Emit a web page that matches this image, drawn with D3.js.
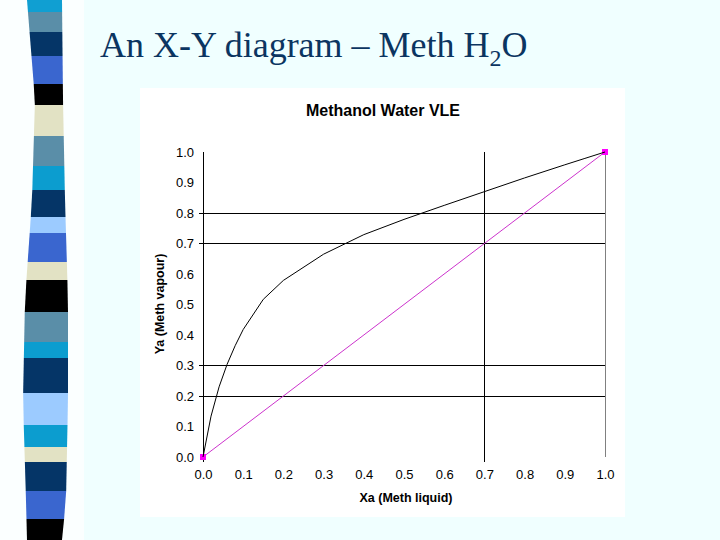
<!DOCTYPE html>
<html>
<head>
<meta charset="utf-8">
<script src="https://cdn.jsdelivr.net/npm/d3@7"></script>
<style>
  html, body { margin: 0; padding: 0; background: #f0ffff; }
  svg { display: block; }
</style>
</head>
<body>
<svg id="chart" width="720" height="540"></svg>
<script>
// ---- data ----
const xLiquid = [0, 0.02, 0.04, 0.06, 0.08, 0.10, 0.15, 0.20, 0.30, 0.40, 0.50, 0.60, 0.70, 0.80, 0.90, 0.95, 1.0];
const yVapour = [0, 0.134, 0.230, 0.304, 0.365, 0.418, 0.517, 0.579, 0.665, 0.729, 0.779, 0.825, 0.870, 0.915, 0.958, 0.979, 1.0];
const diagX = [0, 1];
const diagY = [0, 1];
const xTicks = [0, 0.1, 0.2, 0.3, 0.4, 0.5, 0.6, 0.7, 0.8, 0.9, 1.0];
const yTicks = [0, 0.1, 0.2, 0.3, 0.4, 0.5, 0.6, 0.7, 0.8, 0.9, 1.0];
const hGuides = [0.2, 0.3, 0.7, 0.8];
const vGuides = [0.7];
const slideTitle = "An X-Y diagram – Meth H";
const chartTitle = "Methanol Water VLE";
const xTitle = "Xa (Meth liquid)";
const yTitle = "Ya (Meth vapour)";

// decorative stripe column on the slide's left edge
const bandColors = ["#109fd2","#5a8ea8","#053567","#3a66cf","#000000","#e2e2c4","#5a8ea8","#0c9dcf","#053567","#9ccbff","#3a66cf","#e2e2c4",
                    "#000000","#5a8ea8","#0c9dcf","#053567","#9ccbff","#0c9dcf","#e2e2c4","#053567","#3a66cf","#000000"];
const bandEdges = [0,12,32,56,84,105,136,166,190,217,233,262,280,312,342,358,393,425,447,462,491,519,540];

const svg = d3.select("#chart");

// slide background
svg.append("rect").attr("x",0).attr("y",0).attr("width",720).attr("height",540).attr("fill","#f0ffff");
svg.append("rect").attr("x",0).attr("y",0).attr("width",84).attr("height",540).attr("fill","#fbffff");

const leftEdge = d3.scaleLinear().domain([0,100,200,300,400,500,540]).range([27,35,32,25,23,26,27]);
const rightEdge = d3.scaleLinear().domain([0,100,200,300,400,500,540]).range([62,63,65,68,68,66,62]);
bandColors.forEach((c,i) => {
  const y0 = bandEdges[i], y1 = bandEdges[i+1];
  const pts = [[leftEdge(y0),y0],[rightEdge(y0),y0],[rightEdge(y1),y1],[leftEdge(y1),y1]];
  svg.append("polygon").attr("points", pts.map(p=>p.join(",")).join(" ")).attr("fill", c);
});

// slide title
const t = svg.append("text").attr("x",100).attr("y",57)
  .attr("font-family","'Liberation Serif','Times New Roman',serif").attr("font-size",36).attr("fill","#0b3561");
t.append("tspan").text(slideTitle);
t.append("tspan").attr("font-size",24).attr("dy",9).text("2");
t.append("tspan").attr("dy",-9).text("O");

// chart area
svg.append("rect").attr("x",140).attr("y",88).attr("width",485).attr("height",429).attr("fill","#ffffff");

const x = d3.scaleLinear().domain([0,1]).range([203,605]);
const y = d3.scaleLinear().domain([0,1]).range([457,152]);

svg.append("text").attr("x",383).attr("y",116).attr("text-anchor","middle")
  .attr("font-family","Arial,'Liberation Sans',sans-serif").attr("font-weight","bold").attr("font-size",16)
  .attr("fill","#000").text(chartTitle);

// guide lines
svg.selectAll("line.h").data(hGuides).join("line")
  .attr("x1", x(-0.01)).attr("x2", x(1)).attr("y1", d=>y(d)).attr("y2", d=>y(d))
  .attr("stroke","#000").attr("stroke-width",1).attr("shape-rendering","crispEdges");
svg.selectAll("line.v").data(vGuides).join("line")
  .attr("x1", d=>x(d)).attr("x2", d=>x(d)).attr("y1", y(-0.015)).attr("y2", y(1))
  .attr("stroke","#000").attr("stroke-width",1).attr("shape-rendering","crispEdges");
// right border line at x=1
svg.append("line").attr("x1",x(1)).attr("x2",x(1)).attr("y1",y(0)).attr("y2",y(1))
  .attr("stroke","#808080").attr("stroke-width",1).attr("shape-rendering","crispEdges");
// y axis line
svg.append("line").attr("x1",x(0)).attr("x2",x(0)).attr("y1",y(-0.015)).attr("y2",y(1))
  .attr("stroke","#000").attr("stroke-width",1).attr("shape-rendering","crispEdges");

// axes labels
const fmt = d3.format(".1f");
const yAxis = svg.append("g").attr("transform",`translate(${x(0)},0)`)
  .call(d3.axisLeft(y).tickValues(yTicks).tickSize(0).tickPadding(9).tickFormat(fmt));
const xAxis = svg.append("g").attr("transform",`translate(0,${y(0)})`)
  .call(d3.axisBottom(x).tickValues(xTicks).tickSize(0).tickPadding(13).tickFormat(fmt));
[xAxis, yAxis].forEach(g => {
  g.select(".domain").remove();
  g.selectAll("text").attr("font-family","Arial,'Liberation Sans',sans-serif").attr("font-size",13).attr("fill","#000");
});

svg.append("text").attr("x",406).attr("y",502).attr("text-anchor","middle")
  .attr("font-family","Arial,'Liberation Sans',sans-serif").attr("font-weight","bold").attr("font-size",12.5)
  .attr("fill","#000").text(xTitle);
svg.append("text").attr("transform","translate(164,304) rotate(-90)").attr("text-anchor","middle")
  .attr("font-family","Arial,'Liberation Sans',sans-serif").attr("font-weight","bold").attr("font-size",12.5)
  .attr("fill","#000").text(yTitle);

// series
const line = d3.line().x(d=>x(d[0])).y(d=>y(d[1]));
svg.append("path").datum(d3.zip(diagX, diagY)).attr("d", line)
  .attr("fill","none").attr("stroke","#cc33cc").attr("stroke-width",1);
svg.selectAll("rect.mk").data(d3.zip(diagX, diagY)).join("rect")
  .attr("x", d=>x(d[0])-3).attr("y", d=>y(d[1])-3).attr("width",6).attr("height",6).attr("fill","#ff00ff");
svg.append("path").datum(d3.zip(xLiquid, yVapour)).attr("d", line)
  .attr("fill","none").attr("stroke","#000").attr("stroke-width",1);
</script>
</body>
</html>
